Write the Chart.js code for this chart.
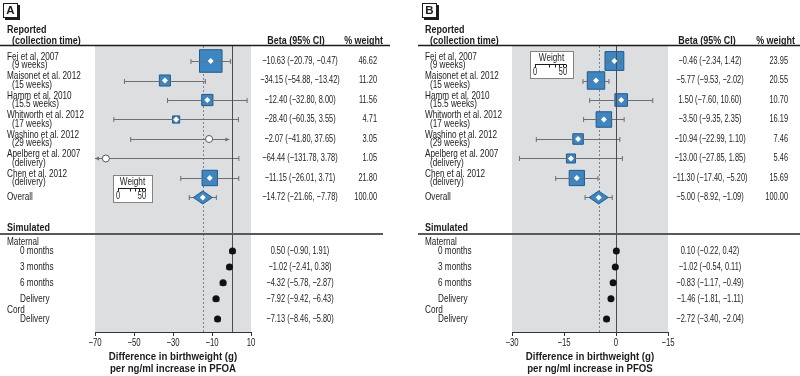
<!DOCTYPE html>
<html>
<head>
<meta charset="utf-8">
<title>Birthweight forest plot PFOA / PFOS</title>
<script src="https://cdn.jsdelivr.net/npm/chart.js@4.4.1/dist/chart.umd.min.js"></script>
<style>
  body { margin: 0; background: #fff; }
  #wrap { position: relative; width: 800px; height: 376px; }
  #wrap canvas { position: absolute; top: 0; }
</style>
</head>
<body>
<div id="wrap">
  <canvas id="chartA" width="400" height="376" style="left:0"></canvas>
  <canvas id="chartB" width="400" height="376" style="left:400px"></canvas>
</div>
<script>
// ชื่อการศึกษา (ใช้ร่วมกันทั้งสองแผง)
var studyNames = ['Fei et al. 2007', 'Maisonet et al. 2012', 'Hamm et al. 2010', 'Whitworth et al. 2012',
  'Washino et al. 2012', 'Apelberg et al. 2007', 'Chen et al. 2012'];
var studyTimes = ['(9 weeks)', '(15 weeks)', '(15.5 weeks)', '(17 weeks)', '(29 weeks)', '(delivery)', '(delivery)'];
var simNames = ['0 months', '3 months', '6 months', 'Delivery', 'Delivery'];
var simGroups = ['Maternal', 'Maternal', 'Maternal', 'Maternal', 'Cord'];

// แผง A: PFOA
var pfoaTicks = ['−70', '−50', '−30', '−10', '10'];
var pfoaEst = [-10.63, -34.15, -12.40, -28.40, -11.5, -64.44, -11.15];
var pfoaLow = [-20.79, -54.88, -32.80, -60.35, -51.7, -70, -26.01];
var pfoaHigh = [-0.47, -13.42, 8.00, 3.55, -1.1, 3.78, 3.71];
var pfoaArrow = ['', '', '', '', 'right', 'left', ''];
var pfoaWeight = [46.62, 11.20, 11.56, 4.71, 3.05, 1.05, 21.80];
var pfoaCI = ['−10.63 (−20.79, −0.47)', '−34.15 (−54.88, −13.42)', '−12.40 (−32.80, 8.00)', '−28.40 (−60.35, 3.55)',
  '−2.07 (−41.80, 37.65)', '−64.44 (−131.78, 3.78)', '−11.15 (−26.01, 3.71)'];
var pfoaOverall = [-14.72, -21.66, -7.78];
var pfoaOverallCI = '−14.72 (−21.66, −7.78)';
var pfoaSimEst = [0.50, -1.02, -4.32, -7.92, -7.13];
var pfoaSimLow = [-0.90, -2.41, -5.78, -9.42, -8.46];
var pfoaSimHigh = [1.91, 0.38, -2.87, -6.43, -5.80];
var pfoaSimCI = ['0.50 (−0.90, 1.91)', '−1.02 (−2.41, 0.38)', '−4.32 (−5.78, −2.87)', '−7.92 (−9.42, −6.43)', '−7.13 (−8.46, −5.80)'];

// แผง B: PFOS
var pfosTicks = ['−30', '−15', '0', '−15'];
var pfosEst = [-0.46, -5.77, 1.50, -3.50, -10.94, -13.00, -11.30];
var pfosLow = [-2.34, -9.53, -7.60, -9.35, -22.99, -27.85, -17.40];
var pfosHigh = [1.42, -2.02, 10.60, 2.35, 1.10, 1.85, -5.20];
var pfosArrow = ['', '', '', '', '', '', ''];
var pfosWeight = [23.95, 20.55, 10.70, 16.19, 7.46, 5.46, 15.69];
var pfosCI = ['−0.46 (−2.34, 1.42)', '−5.77 (−9.53, −2.02)', '1.50 (−7.60, 10.60)', '−3.50 (−9.35, 2.35)',
  '−10.94 (−22.99, 1.10)', '−13.00 (−27.85, 1.85)', '−11.30 (−17.40, −5.20)'];
var pfosOverall = [-5.00, -8.92, -1.09];
var pfosOverallCI = '−5.00 (−8.92, −1.09)';
var pfosSimEst = [0.10, -0.2, -0.83, -1.46, -2.72];
var pfosSimLow = [-0.22, -0.54, -1.17, -1.81, -3.40];
var pfosSimHigh = [0.42, 0.11, -0.49, -1.11, -2.04];
var pfosSimCI = ['0.10 (−0.22, 0.42)', '−1.02 (−0.54, 0.11)', '−0.83 (−1.17, −0.49)', '−1.46 (−1.81, −1.11)', '−2.72 (−3.40, −2.04)'];

var FONT = "'Liberation Sans', Arial, sans-serif";
var INK = '#1d1b1c';
var BLUE = '#3b86c3';
var BLUE_EDGE = '#22598a';
var BAND = '#dcdee0';
var WHISKER = '#6d6e71';
var OVERALL_ROW = 7;

// ขนาดและอัตราบีบตัวอักษรให้แคบแบบฟอนต์ condensed ของต้นฉบับ
var F_TEXT = '10.5px', F_HEAD = 'bold 11.5px';
var SQ_LABEL = 0.78, SQ_NUM = 0.705, SQ_HEAD = 0.78, SQ_TICK = 0.74, SQ_TITLE = 0.84;

Chart.defaults.font.family = FONT;
Chart.defaults.color = INK;

// ตำแหน่งแถวของข้อมูลจำลอง (เว้นช่องเมื่อเปลี่ยนกลุ่ม)
function simRowY(j) {
  var y = 9.74 + 0.82 * j;
  if (simGroups[j] !== simGroups[0]) y += 0.21;
  return y;
}

function txt(ctx, s, x, y, align, font, squeeze) {
  ctx.font = font + ' ' + FONT;
  ctx.textAlign = align;
  ctx.textBaseline = 'middle';
  var w = ctx.measureText(s).width;
  ctx.fillText(s, x, y, w * (squeeze || 1));
}

// เส้นช่วงความเชื่อมั่น พร้อมขีดปลายหรือหัวลูกศร
function whisker(ctx, xs, y, lo, hi, arrow) {
  var x1 = xs.getPixelForValue(lo), x2 = xs.getPixelForValue(hi);
  y = Math.round(y) + 0.5;
  ctx.beginPath();
  ctx.moveTo(x1, y); ctx.lineTo(x2, y);
  if (arrow !== 'left') { ctx.moveTo(x1, y - 2.5); ctx.lineTo(x1, y + 2.5); }
  if (arrow !== 'right') { ctx.moveTo(x2, y - 2.5); ctx.lineTo(x2, y + 2.5); }
  ctx.stroke();
  if (arrow) {
    var tip = arrow === 'left' ? x1 : x2, d = arrow === 'left' ? 4 : -4;
    ctx.beginPath();
    ctx.moveTo(tip, y); ctx.lineTo(tip + d, y - 2); ctx.lineTo(tip + d, y + 2);
    ctx.closePath(); ctx.fill();
  }
}

function forestPlugin(p) {
  return {
    id: 'forest' + p.tag,
    beforeDraw: function (chart) {
      var a = chart.chartArea, ctx = chart.ctx, xs = chart.scales.x;
      ctx.save();
      ctx.fillStyle = BAND;
      ctx.fillRect(a.left, a.top, a.right - a.left, a.bottom - a.top);
      // เส้นประที่ค่ารวม
      var xd = Math.round(xs.getPixelForValue(p.overall[0])) + 0.5;
      ctx.strokeStyle = '#808285';
      ctx.lineWidth = 1;
      ctx.setLineDash([2, 2]);
      ctx.beginPath(); ctx.moveTo(xd, a.top); ctx.lineTo(xd, a.bottom); ctx.stroke();
      ctx.restore();
    },
    afterDatasetDraw: function (chart, args) {
      if (args.index !== 0) return;
      var a = chart.chartArea, ctx = chart.ctx, xs = chart.scales.x, ys = chart.scales.y;
      ctx.save();
      ctx.strokeStyle = WHISKER;
      ctx.fillStyle = WHISKER;
      ctx.lineWidth = 1;
      p.est.forEach(function (v, i) {
        whisker(ctx, xs, ys.getPixelForValue(i), p.low[i], p.high[i], p.arrow[i]);
      });
      var yo = ys.getPixelForValue(OVERALL_ROW);
      whisker(ctx, xs, yo, p.overall[1], p.overall[2], '');
      p.simEst.forEach(function (v, j) {
        whisker(ctx, xs, ys.getPixelForValue(simRowY(j)), p.simLow[j], p.simHigh[j], '');
      });
      // ข้าวหลามตัดของค่ารวม
      var xo = xs.getPixelForValue(p.overall[0]);
      ctx.beginPath();
      ctx.moveTo(xo - 9.5, yo); ctx.lineTo(xo, yo - 6.5); ctx.lineTo(xo + 9.5, yo); ctx.lineTo(xo, yo + 6.5);
      ctx.closePath();
      ctx.fillStyle = BLUE; ctx.fill();
      ctx.strokeStyle = BLUE_EDGE; ctx.stroke();
      // เส้นทึบที่ศูนย์
      var x0 = Math.round(xs.getPixelForValue(0)) + 0.5;
      ctx.strokeStyle = '#4d4d4f';
      ctx.beginPath(); ctx.moveTo(x0, a.top); ctx.lineTo(x0, a.bottom); ctx.stroke();
      ctx.restore();
    },
    afterDraw: function (chart) {
      var a = chart.chartArea, ctx = chart.ctx, xs = chart.scales.x, ys = chart.scales.y;
      var L = p.labelX;
      ctx.save();
      ctx.fillStyle = INK;
      ctx.strokeStyle = INK;

      // ป้ายแผง A / B
      ctx.lineWidth = 1;
      ctx.strokeRect(p.tagX + 0.5, 3.5, 14, 14);
      ctx.fillRect(p.tagX + 15, 5, 2, 14);
      ctx.fillRect(p.tagX + 2, 18, 15, 2);
      txt(ctx, p.tag, p.tagX + 7.5, 11, 'center', 'bold 11.5px');

      // หัวตาราง
      txt(ctx, 'Reported', L, a.top - 16, 'left', F_HEAD, SQ_HEAD);
      txt(ctx, '(collection time)', L + 5, a.top - 5, 'left', F_HEAD, SQ_HEAD);
      txt(ctx, 'Beta (95% CI)', p.betaHeadX, a.top - 5, 'center', F_HEAD, SQ_HEAD);
      txt(ctx, '% weight', p.weightHeadX, a.top - 5, 'right', F_HEAD, SQ_HEAD);
      ctx.lineWidth = 1.3;
      ctx.beginPath(); ctx.moveTo(p.lineFrom, a.top - 0.5); ctx.lineTo(p.headLineTo, a.top - 0.5); ctx.stroke();

      // แถวการศึกษา
      studyNames.forEach(function (name, i) {
        var y = ys.getPixelForValue(i);
        txt(ctx, name, L, y - 4.3, 'left', F_TEXT, SQ_LABEL);
        txt(ctx, studyTimes[i], L + 5, y + 4.3, 'left', F_TEXT, SQ_LABEL);
        txt(ctx, p.ci[i], p.betaX, y, 'center', F_TEXT, SQ_NUM);
        txt(ctx, p.weight[i].toFixed(2), p.weightX, y, 'right', F_TEXT, SQ_NUM);
      });
      var yo = ys.getPixelForValue(OVERALL_ROW);
      txt(ctx, 'Overall', L, yo, 'left', F_TEXT, SQ_LABEL);
      txt(ctx, p.overallCI, p.betaX, yo, 'center', F_TEXT, SQ_NUM);
      txt(ctx, (100).toFixed(2), p.weightX, yo, 'right', F_TEXT, SQ_NUM);

      // ส่วนข้อมูลจำลอง
      var ys0 = ys.getPixelForValue(simRowY(0));
      txt(ctx, 'Simulated', L, ys0 - 23, 'left', F_HEAD, SQ_HEAD);
      ctx.strokeStyle = '#58595b';
      ctx.lineWidth = 2;
      ctx.beginPath(); ctx.moveTo(p.lineFrom, ys0 - 17); ctx.lineTo(p.simLineTo, ys0 - 17); ctx.stroke();
      simNames.forEach(function (name, j) {
        var y = ys.getPixelForValue(simRowY(j));
        if (j === 0 || simGroups[j] !== simGroups[j - 1]) {
          txt(ctx, simGroups[j], L, y - 8.5, 'left', F_TEXT, SQ_LABEL);
        }
        txt(ctx, name, L + 13, y, 'left', F_TEXT, SQ_LABEL);
        txt(ctx, p.simCI[j], p.betaX, y, 'center', F_TEXT, SQ_NUM);
      });

      // ป้ายแกน x และชื่อแกน
      xs.ticks.forEach(function (t, i) {
        txt(ctx, p.ticks[i], xs.getPixelForValue(t.value), a.bottom + 11, 'center', F_TEXT, SQ_TICK);
      });
      var cx = (a.left + a.right) / 2;
      txt(ctx, 'Difference in birthweight (g)', cx, a.bottom + 25, 'center', F_HEAD, SQ_TITLE);
      txt(ctx, p.xTitle, cx, a.bottom + 36.5, 'center', F_HEAD, SQ_TITLE);

      // กล่องคำอธิบายน้ำหนัก
      var w = p.ruler + 12, lx = a.left + 18, ly = Math.round(ys.getPixelForValue(p.legendRow) - 13.5);
      ctx.fillStyle = '#fff';
      ctx.fillRect(lx, ly, w, 27);
      ctx.strokeStyle = '#808285';
      ctx.lineWidth = 1;
      ctx.strokeRect(lx + 0.5, ly + 0.5, w, 27);
      ctx.fillStyle = INK;
      txt(ctx, 'Weight', lx + w / 2, ly + 7, 'center', F_TEXT, SQ_LABEL);
      var rx = lx + 5, ry = ly + 13.5;
      ctx.strokeStyle = INK;
      ctx.beginPath();
      ctx.moveTo(rx, ry); ctx.lineTo(rx + p.ruler, ry);
      [0, 10, 20, 30, 40, 50].forEach(function (t) {
        var tx = Math.round(rx + p.ruler * Math.sqrt(t / 50)) + 0.5;
        ctx.moveTo(tx, ry); ctx.lineTo(tx, ry + 3);
      });
      ctx.stroke();
      txt(ctx, '0', rx, ly + 21.5, 'center', F_TEXT, SQ_NUM);
      txt(ctx, '50', rx + p.ruler + 1, ly + 21.5, 'right', F_TEXT, SQ_NUM);
      ctx.restore();
    }
  };
}

function makePanel(id, p) {
  var boxPts = [], boxR = [], openPts = [], whitePts = [], simPts = [];
  p.est.forEach(function (v, i) {
    if (p.weight[i] >= 4) {
      boxPts.push({ x: v, y: i });
      boxR.push(p.boxScale * Math.sqrt(p.weight[i]) / Math.SQRT2);
      whitePts.push({ x: v, y: i });
    } else {
      openPts.push({ x: v, y: i });
    }
  });
  whitePts.push({ x: p.overall[0], y: OVERALL_ROW });
  p.simEst.forEach(function (v, j) {
    simPts.push({ x: v, y: simRowY(j) });
  });

  return new Chart(document.getElementById(id), {
    type: 'scatter',
    data: {
      datasets: [
        { data: boxPts, pointStyle: 'rect', pointRadius: boxR, backgroundColor: BLUE, borderColor: BLUE_EDGE, borderWidth: 1, order: 4 },
        { data: openPts, pointStyle: 'circle', pointRadius: 3.5, backgroundColor: '#fff', borderColor: '#58595b', borderWidth: 1, order: 3 },
        { data: simPts, pointStyle: 'circle', pointRadius: 3.5, backgroundColor: '#111', borderColor: '#111', borderWidth: 0, order: 2 },
        { data: whitePts, pointStyle: 'rectRot', pointRadius: 3, backgroundColor: '#fff', borderWidth: 0, order: 1 }
      ]
    },
    options: {
      responsive: false,
      animation: false,
      events: [],
      layout: { padding: { top: 46, left: p.padLeft, right: p.padRight, bottom: 0 } },
      plugins: { legend: { display: false }, tooltip: { enabled: false } },
      scales: {
        x: {
          type: 'linear',
          min: p.min,
          max: p.max,
          afterFit: function (scale) { scale.height = 44; },
          grid: { display: true, drawOnChartArea: false, drawTicks: true, tickLength: 4, tickColor: '#333' },
          border: { display: true, color: '#333', width: 1 },
          ticks: { stepSize: p.step, autoSkip: false, display: false },
          title: { display: false }
        },
        y: { type: 'linear', display: false, reverse: true, min: -0.77, max: 13.9 }
      }
    },
    plugins: [forestPlugin(p)]
  });
}

makePanel('chartA', {
  tag: 'A', tagX: 3, labelX: 7,
  padLeft: 95, padRight: 149,
  min: -70, max: 10, step: 20, ticks: pfoaTicks,
  xTitle: 'per ng/ml increase in PFOA',
  est: pfoaEst, low: pfoaLow, high: pfoaHigh, arrow: pfoaArrow, weight: pfoaWeight, ci: pfoaCI,
  overall: pfoaOverall, overallCI: pfoaOverallCI,
  simEst: pfoaSimEst, simLow: pfoaSimLow, simHigh: pfoaSimHigh, simCI: pfoaSimCI,
  betaX: 300, weightX: 377, betaHeadX: 296, weightHeadX: 383,
  lineFrom: 0, headLineTo: 390, simLineTo: 383,
  boxScale: 3.3, ruler: 27, legendRow: 6.56
});

makePanel('chartB', {
  tag: 'B', tagX: 22, labelX: 25,
  padLeft: 112, padRight: 132,
  min: -30, max: 15, step: 15, ticks: pfosTicks,
  xTitle: 'per ng/ml increase in PFOS',
  est: pfosEst, low: pfosLow, high: pfosHigh, arrow: pfosArrow, weight: pfosWeight, ci: pfosCI,
  overall: pfosOverall, overallCI: pfosOverallCI,
  simEst: pfosSimEst, simLow: pfosSimLow, simHigh: pfosSimHigh, simCI: pfosSimCI,
  betaX: 310, weightX: 388, betaHeadX: 307, weightHeadX: 395,
  lineFrom: 18, headLineTo: 400, simLineTo: 400,
  boxScale: 3.85, ruler: 31, legendRow: 0.2
});
</script>
</body>
</html>
